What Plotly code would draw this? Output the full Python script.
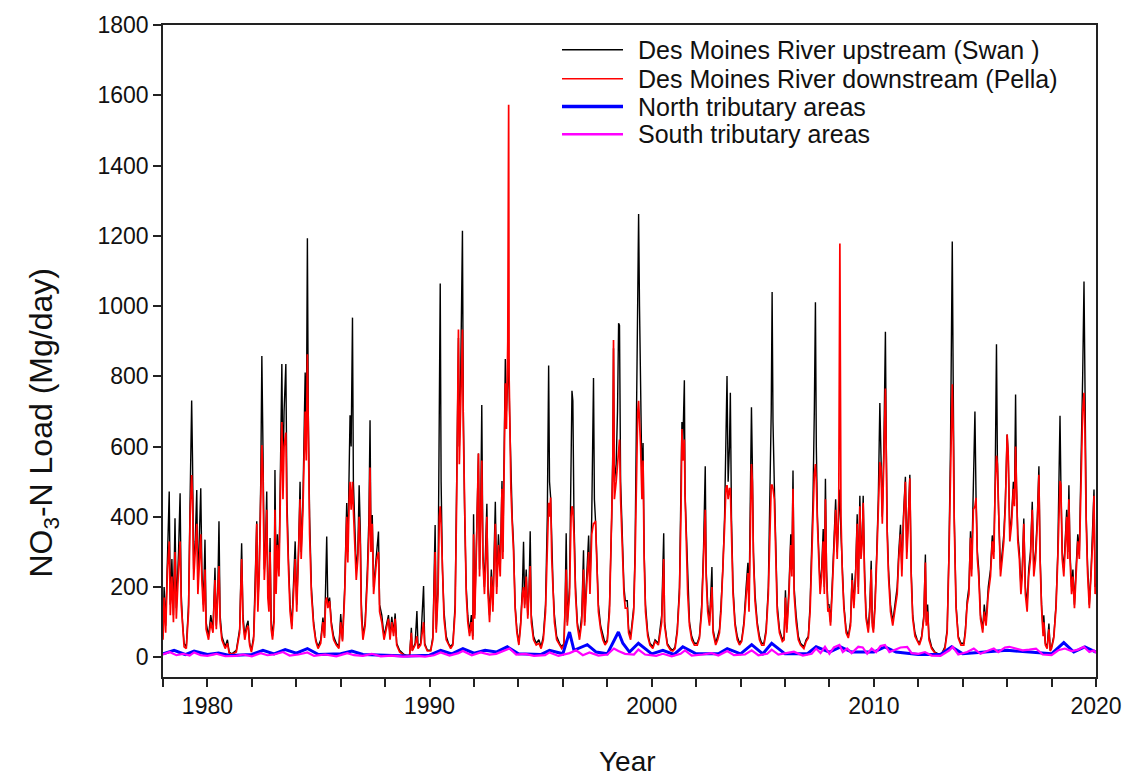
import plotly.graph_objects as go

# Daily NO3-N load, Des Moines River — turning points of each record (decimal year, Mg/day)
SWAN = [
    (1978.00, 60), (1978.05, 200), (1978.12, 90), (1978.20, 300), (1978.28, 472), (1978.33, 150), (1978.40, 280),
    (1978.47, 120), (1978.54, 396), (1978.60, 140), (1978.70, 300), (1978.77, 467), (1978.82, 180), (1978.88, 100),
    (1978.95, 40),
    (1979.05, 30), (1979.15, 150), (1979.22, 450), (1979.29, 731), (1979.33, 560), (1979.38, 250), (1979.45, 330),
    (1979.52, 476), (1979.57, 200), (1979.63, 320), (1979.70, 481), (1979.75, 250), (1979.82, 150), (1979.89, 335),
    (1979.94, 100),
    (1980.05, 60), (1980.15, 120), (1980.25, 80), (1980.34, 255), (1980.40, 90), (1980.47, 200), (1980.52, 387),
    (1980.57, 120), (1980.65, 60), (1980.80, 30), (1980.90, 50), (1980.98, 15),
    (1981.10, 10), (1981.30, 20), (1981.45, 80), (1981.54, 325), (1981.60, 120), (1981.68, 60), (1981.76, 90),
    (1981.83, 104), (1981.90, 40), (1981.98, 20),
    (1982.08, 60), (1982.15, 200), (1982.22, 387), (1982.27, 150), (1982.33, 250), (1982.40, 500), (1982.45, 858),
    (1982.50, 600), (1982.56, 250), (1982.62, 330), (1982.67, 472), (1982.72, 200), (1982.77, 150), (1982.82, 340),
    (1982.87, 100), (1982.93, 60),
    (1983.00, 120), (1983.04, 533), (1983.09, 200), (1983.15, 350), (1983.22, 250), (1983.30, 600), (1983.35, 835),
    (1983.40, 500), (1983.45, 700), (1983.53, 835), (1983.58, 450), (1983.65, 274), (1983.72, 150), (1983.80, 90),
    (1983.88, 200), (1983.95, 330),
    (1984.02, 150), (1984.10, 300), (1984.17, 500), (1984.22, 300), (1984.30, 450), (1984.40, 811), (1984.45, 600),
    (1984.50, 1193), (1984.54, 700), (1984.60, 400), (1984.68, 200), (1984.78, 100), (1984.88, 50), (1984.98, 30),
    (1985.10, 50), (1985.20, 113), (1985.27, 60), (1985.32, 170), (1985.37, 344), (1985.42, 150), (1985.50, 170),
    (1985.58, 100), (1985.68, 60), (1985.80, 40), (1985.92, 30),
    (1986.00, 123), (1986.08, 50), (1986.18, 200), (1986.27, 439), (1986.32, 300), (1986.38, 550), (1986.42, 689),
    (1986.47, 600), (1986.50, 840), (1986.53, 967), (1986.57, 500), (1986.63, 350), (1986.70, 250), (1986.77, 300),
    (1986.83, 490), (1986.88, 368), (1986.93, 150),
    (1987.00, 60), (1987.10, 100), (1987.20, 250), (1987.27, 400), (1987.32, 675), (1987.36, 350), (1987.42, 405),
    (1987.48, 200), (1987.55, 250), (1987.62, 300), (1987.70, 358), (1987.75, 150), (1987.85, 120), (1987.95, 60),
    (1988.05, 90), (1988.15, 120), (1988.22, 60), (1988.30, 115), (1988.38, 70), (1988.45, 125), (1988.52, 40),
    (1988.65, 20), (1988.85, 8), (1988.98, 5),
    (1989.10, 5), (1989.18, 84), (1989.22, 20), (1989.35, 40), (1989.43, 132), (1989.48, 30), (1989.60, 40),
    (1989.73, 203), (1989.78, 40), (1989.90, 20),
    (1990.05, 20), (1990.15, 60), (1990.25, 377), (1990.30, 80), (1990.38, 200), (1990.44, 873), (1990.48, 1064),
    (1990.52, 500), (1990.58, 250), (1990.65, 130), (1990.75, 60), (1990.85, 40), (1990.95, 30),
    (1991.05, 40), (1991.15, 150), (1991.22, 500), (1991.30, 909), (1991.34, 600), (1991.40, 800), (1991.48, 1214),
    (1991.52, 700), (1991.58, 400), (1991.65, 200), (1991.72, 120), (1991.80, 70), (1991.88, 120), (1991.95, 60),
    (1991.98, 407), (1992.03, 120), (1992.10, 300), (1992.20, 580), (1992.25, 250), (1992.30, 400), (1992.35, 718),
    (1992.40, 300), (1992.47, 200), (1992.53, 300), (1992.58, 437), (1992.63, 200), (1992.70, 120), (1992.78, 250),
    (1992.85, 150), (1992.90, 280), (1992.96, 443),
    (1993.02, 200), (1993.10, 350), (1993.18, 250), (1993.26, 502), (1993.30, 300), (1993.36, 600), (1993.41, 849),
    (1993.46, 700), (1993.52, 800), (1993.56, 850), (1993.60, 700), (1993.66, 500), (1993.72, 400), (1993.78, 323),
    (1993.85, 150), (1993.93, 80),
    (1994.02, 40), (1994.10, 100), (1994.18, 200), (1994.23, 329), (1994.28, 150), (1994.35, 250), (1994.42, 120),
    (1994.48, 200), (1994.53, 359), (1994.58, 120), (1994.68, 60), (1994.80, 40), (1994.92, 50),
    (1995.02, 30), (1995.12, 60), (1995.22, 150), (1995.30, 400), (1995.36, 831), (1995.40, 500), (1995.45, 455),
    (1995.50, 300), (1995.56, 200), (1995.62, 120), (1995.72, 60), (1995.85, 40), (1995.95, 30),
    (1996.05, 40), (1996.10, 150), (1996.15, 353), (1996.20, 100), (1996.30, 200), (1996.37, 600), (1996.41, 759),
    (1996.45, 730), (1996.50, 400), (1996.57, 200), (1996.65, 100), (1996.75, 60), (1996.85, 120), (1996.93, 305),
    (1996.98, 100), (1997.05, 200), (1997.16, 347), (1997.22, 200), (1997.30, 400), (1997.38, 795), (1997.42, 450),
    (1997.47, 389), (1997.53, 250), (1997.60, 150), (1997.70, 90), (1997.80, 60), (1997.90, 40),
    (1998.00, 50), (1998.10, 150), (1998.20, 400), (1998.25, 600), (1998.28, 880), (1998.32, 500), (1998.40, 550),
    (1998.46, 700), (1998.51, 951), (1998.55, 945), (1998.60, 500), (1998.68, 300), (1998.75, 200), (1998.81, 161),
    (1998.90, 161), (1998.96, 80),
    (1999.05, 60), (1999.12, 100), (1999.19, 143), (1999.25, 300), (1999.32, 700), (1999.37, 1130), (1999.41, 1262),
    (1999.45, 1000), (1999.50, 700), (1999.56, 500), (1999.61, 610), (1999.66, 300), (1999.72, 150), (1999.82, 70),
    (1999.92, 40),
    (2000.05, 30), (2000.15, 50), (2000.30, 40), (2000.45, 120), (2000.54, 353), (2000.58, 100), (2000.70, 40),
    (2000.85, 25), (2000.95, 20),
    (2001.05, 30), (2001.15, 80), (2001.25, 200), (2001.32, 450), (2001.36, 670), (2001.40, 600), (2001.47, 789),
    (2001.50, 466), (2001.56, 350), (2001.62, 200), (2001.70, 100), (2001.80, 60), (2001.92, 40),
    (2002.05, 40), (2002.15, 60), (2002.25, 150), (2002.33, 300), (2002.41, 544), (2002.45, 250), (2002.52, 150),
    (2002.60, 100), (2002.66, 180), (2002.71, 257), (2002.76, 80), (2002.88, 40), (2002.97, 60),
    (2003.05, 80), (2003.12, 150), (2003.20, 250), (2003.28, 400), (2003.34, 600), (2003.39, 801), (2003.44, 500),
    (2003.50, 600), (2003.54, 753), (2003.59, 400), (2003.66, 200), (2003.75, 100), (2003.85, 60), (2003.95, 40),
    (2004.05, 50), (2004.15, 100), (2004.25, 200), (2004.33, 269), (2004.38, 150), (2004.44, 400), (2004.49, 712),
    (2004.53, 550), (2004.58, 300), (2004.65, 180), (2004.75, 100), (2004.85, 60), (2004.95, 40),
    (2005.05, 40), (2005.15, 80), (2005.25, 200), (2005.33, 450), (2005.38, 700), (2005.42, 1040), (2005.46, 670),
    (2005.52, 490), (2005.58, 300), (2005.65, 150), (2005.75, 80), (2005.88, 50), (2005.96, 60),
    (2006.02, 191), (2006.08, 80), (2006.18, 200), (2006.26, 350), (2006.31, 250), (2006.36, 532), (2006.41, 200),
    (2006.50, 120), (2006.60, 60), (2006.70, 40), (2006.85, 30), (2006.95, 50),
    (2007.05, 60), (2007.13, 150), (2007.20, 300), (2007.26, 450), (2007.32, 700), (2007.37, 1011), (2007.41, 600),
    (2007.46, 400), (2007.52, 300), (2007.58, 200), (2007.65, 250), (2007.72, 365), (2007.77, 200), (2007.82, 508),
    (2007.87, 250), (2007.93, 150),
    (2007.98, 150), (2008.05, 100), (2008.12, 200), (2008.20, 350), (2008.28, 450), (2008.35, 300), (2008.42, 400),
    (2008.47, 478), (2008.52, 350), (2008.58, 250), (2008.65, 150), (2008.75, 80), (2008.85, 60), (2008.95, 100),
    (2009.02, 239), (2009.10, 150), (2009.18, 250), (2009.25, 407), (2009.30, 200), (2009.37, 460), (2009.42, 300),
    (2009.48, 350), (2009.52, 460), (2009.58, 250), (2009.65, 120), (2009.75, 80), (2009.82, 150), (2009.88, 275),
    (2009.93, 100),
    (2009.98, 80), (2010.05, 150), (2010.13, 300), (2010.20, 450), (2010.27, 724), (2010.32, 562), (2010.38, 400),
    (2010.45, 600), (2010.52, 927), (2010.56, 600), (2010.60, 371), (2010.66, 250), (2010.75, 150), (2010.85, 100),
    (2010.95, 150),
    (2011.05, 200), (2011.12, 300), (2011.20, 377), (2011.26, 250), (2011.33, 400), (2011.42, 514), (2011.48, 300),
    (2011.55, 400), (2011.62, 520), (2011.68, 250), (2011.75, 120), (2011.85, 70), (2011.95, 50),
    (2012.05, 40), (2012.15, 60), (2012.25, 120), (2012.32, 293), (2012.36, 100), (2012.42, 150), (2012.48, 60),
    (2012.60, 30), (2012.75, 15), (2012.90, 10),
    (2013.05, 10), (2013.20, 30), (2013.30, 80), (2013.38, 300), (2013.45, 600), (2013.50, 1000), (2013.53, 1184),
    (2013.57, 800), (2013.62, 400), (2013.70, 150), (2013.80, 60), (2013.92, 40),
    (2014.05, 40), (2014.12, 80), (2014.20, 161), (2014.28, 200), (2014.35, 359), (2014.40, 250), (2014.48, 450),
    (2014.55, 700), (2014.60, 454), (2014.66, 300), (2014.72, 251), (2014.80, 120), (2014.90, 80), (2014.97, 150),
    (2015.05, 100), (2015.15, 200), (2015.25, 250), (2015.33, 347), (2015.40, 300), (2015.46, 500), (2015.52, 891),
    (2015.56, 574), (2015.62, 400), (2015.70, 250), (2015.78, 300), (2015.85, 350), (2015.92, 450),
    (2016.00, 634), (2016.05, 574), (2016.12, 350), (2016.20, 400), (2016.28, 500), (2016.33, 450), (2016.38, 748),
    (2016.42, 490), (2016.48, 350), (2016.55, 300), (2016.62, 200), (2016.68, 250), (2016.75, 395), (2016.82, 200),
    (2016.90, 150), (2016.97, 250),
    (2017.05, 300), (2017.13, 443), (2017.20, 250), (2017.28, 300), (2017.36, 400), (2017.43, 544), (2017.48, 300),
    (2017.55, 150), (2017.62, 70), (2017.65, 120), (2017.72, 40), (2017.80, 30), (2017.88, 96), (2017.94, 20),
    (2018.00, 30), (2018.10, 60), (2018.20, 150), (2018.28, 300), (2018.33, 450), (2018.38, 688), (2018.42, 490),
    (2018.48, 300), (2018.55, 250), (2018.62, 350), (2018.68, 420), (2018.73, 300), (2018.78, 490), (2018.83, 300),
    (2018.90, 200), (2018.96, 250),
    (2019.03, 150), (2019.10, 250), (2019.18, 350), (2019.25, 300), (2019.32, 500), (2019.40, 800), (2019.46, 1070),
    (2019.50, 700), (2019.56, 400), (2019.62, 263), (2019.70, 150), (2019.78, 250), (2019.85, 350), (2019.91, 478),
    (2019.96, 200), (2020.00, 210),
]

PELLA = [
    (1978.00, 50), (1978.05, 170), (1978.12, 70), (1978.20, 250), (1978.28, 330), (1978.33, 120), (1978.40, 230),
    (1978.47, 100), (1978.54, 300), (1978.60, 110), (1978.70, 250), (1978.77, 330), (1978.82, 150), (1978.88, 80),
    (1978.95, 30),
    (1979.05, 25), (1979.15, 130), (1979.22, 400), (1979.29, 519), (1979.33, 450), (1979.38, 220), (1979.45, 300),
    (1979.52, 380), (1979.57, 180), (1979.63, 280), (1979.70, 350), (1979.75, 220), (1979.82, 130), (1979.89, 250),
    (1979.94, 80),
    (1980.05, 50), (1980.15, 100), (1980.25, 70), (1980.34, 220), (1980.40, 80), (1980.47, 170), (1980.52, 260),
    (1980.57, 100), (1980.65, 50), (1980.80, 25), (1980.90, 40), (1980.98, 12),
    (1981.10, 8), (1981.30, 15), (1981.45, 70), (1981.54, 280), (1981.60, 100), (1981.68, 50), (1981.76, 80),
    (1981.83, 90), (1981.90, 35), (1981.98, 15),
    (1982.08, 50), (1982.15, 180), (1982.22, 380), (1982.27, 130), (1982.33, 230), (1982.40, 450), (1982.45, 604),
    (1982.50, 520), (1982.56, 220), (1982.62, 300), (1982.67, 420), (1982.72, 170), (1982.77, 130), (1982.82, 300),
    (1982.87, 80), (1982.93, 50),
    (1983.00, 100), (1983.04, 420), (1983.09, 180), (1983.15, 320), (1983.22, 230), (1983.30, 520), (1983.35, 670),
    (1983.40, 450), (1983.45, 600), (1983.53, 640), (1983.58, 400), (1983.65, 250), (1983.72, 130), (1983.80, 80),
    (1983.88, 180), (1983.95, 280),
    (1984.02, 130), (1984.10, 270), (1984.17, 450), (1984.22, 280), (1984.30, 420), (1984.40, 700), (1984.45, 560),
    (1984.50, 863), (1984.54, 650), (1984.60, 350), (1984.68, 180), (1984.78, 90), (1984.88, 45), (1984.98, 25),
    (1985.10, 40), (1985.20, 100), (1985.27, 55), (1985.32, 160), (1985.37, 170), (1985.42, 140), (1985.50, 160),
    (1985.58, 90), (1985.68, 50), (1985.80, 35), (1985.92, 25),
    (1986.00, 100), (1986.08, 45), (1986.18, 180), (1986.27, 400), (1986.32, 270), (1986.38, 450), (1986.42, 500),
    (1986.47, 420), (1986.50, 450), (1986.53, 500), (1986.57, 420), (1986.63, 300), (1986.70, 220), (1986.77, 280),
    (1986.83, 400), (1986.88, 320), (1986.93, 120),
    (1987.00, 50), (1987.10, 90), (1987.20, 220), (1987.27, 350), (1987.32, 540), (1987.36, 300), (1987.42, 380),
    (1987.48, 180), (1987.55, 230), (1987.62, 280), (1987.70, 300), (1987.75, 130), (1987.85, 100), (1987.95, 50),
    (1988.05, 80), (1988.15, 110), (1988.22, 50), (1988.30, 100), (1988.38, 60), (1988.45, 110), (1988.52, 35),
    (1988.65, 15), (1988.85, 6), (1988.98, 4),
    (1989.10, 4), (1989.18, 70), (1989.22, 18), (1989.35, 35), (1989.43, 60), (1989.48, 25), (1989.60, 35),
    (1989.73, 100), (1989.78, 35), (1989.90, 18),
    (1990.05, 18), (1990.15, 50), (1990.25, 300), (1990.30, 70), (1990.38, 180), (1990.44, 400), (1990.48, 430),
    (1990.52, 380), (1990.58, 220), (1990.65, 110), (1990.75, 50), (1990.85, 35), (1990.95, 25),
    (1991.05, 35), (1991.15, 130), (1991.22, 450), (1991.30, 933), (1991.34, 550), (1991.40, 760), (1991.48, 933),
    (1991.52, 650), (1991.58, 370), (1991.65, 180), (1991.72, 100), (1991.80, 60), (1991.88, 100), (1991.95, 50),
    (1991.98, 350), (1992.03, 110), (1992.10, 280), (1992.20, 580), (1992.25, 230), (1992.30, 380), (1992.35, 560),
    (1992.40, 280), (1992.47, 180), (1992.53, 280), (1992.58, 400), (1992.63, 180), (1992.70, 100), (1992.78, 230),
    (1992.85, 130), (1992.90, 250), (1992.96, 380),
    (1993.02, 180), (1993.10, 320), (1993.18, 230), (1993.26, 480), (1993.30, 280), (1993.36, 560), (1993.41, 780),
    (1993.46, 650), (1993.52, 900), (1993.56, 1573), (1993.58, 800), (1993.62, 650), (1993.66, 480), (1993.72, 380),
    (1993.78, 300), (1993.85, 140), (1993.93, 70),
    (1994.02, 35), (1994.10, 90), (1994.18, 180), (1994.23, 200), (1994.28, 140), (1994.35, 230), (1994.42, 110),
    (1994.48, 180), (1994.53, 260), (1994.58, 100), (1994.68, 50), (1994.80, 35), (1994.92, 40),
    (1995.02, 25), (1995.12, 50), (1995.22, 130), (1995.30, 350), (1995.36, 440), (1995.40, 400), (1995.45, 455),
    (1995.50, 280), (1995.56, 180), (1995.62, 100), (1995.72, 50), (1995.85, 35), (1995.95, 25),
    (1996.05, 35), (1996.10, 130), (1996.15, 250), (1996.20, 90), (1996.30, 180), (1996.37, 400), (1996.41, 430),
    (1996.45, 420), (1996.50, 350), (1996.57, 180), (1996.65, 90), (1996.75, 50), (1996.85, 100), (1996.93, 250),
    (1996.98, 90), (1997.05, 180), (1997.16, 300), (1997.22, 180), (1997.30, 350), (1997.38, 383), (1997.42, 380),
    (1997.47, 389), (1997.53, 230), (1997.60, 130), (1997.70, 80), (1997.80, 50), (1997.90, 35),
    (1998.00, 45), (1998.10, 130), (1998.20, 380), (1998.25, 550), (1998.28, 903), (1998.32, 450), (1998.40, 500),
    (1998.46, 550), (1998.51, 600), (1998.55, 620), (1998.60, 450), (1998.68, 280), (1998.75, 180), (1998.81, 140),
    (1998.90, 140), (1998.96, 70),
    (1999.05, 50), (1999.12, 90), (1999.19, 130), (1999.25, 270), (1999.32, 550), (1999.37, 700), (1999.41, 730),
    (1999.45, 680), (1999.50, 600), (1999.56, 450), (1999.61, 560), (1999.66, 280), (1999.72, 130), (1999.82, 60),
    (1999.92, 35),
    (2000.05, 25), (2000.15, 45), (2000.30, 35), (2000.45, 100), (2000.54, 280), (2000.58, 90), (2000.70, 35),
    (2000.85, 20), (2000.95, 18),
    (2001.05, 25), (2001.15, 70), (2001.25, 180), (2001.32, 420), (2001.36, 650), (2001.40, 560), (2001.47, 620),
    (2001.50, 466), (2001.56, 330), (2001.62, 180), (2001.70, 90), (2001.80, 50), (2001.92, 35),
    (2002.05, 35), (2002.15, 55), (2002.25, 130), (2002.33, 280), (2002.41, 420), (2002.45, 230), (2002.52, 130),
    (2002.60, 90), (2002.66, 160), (2002.71, 200), (2002.76, 70), (2002.88, 35), (2002.97, 50),
    (2003.05, 70), (2003.12, 130), (2003.20, 230), (2003.28, 370), (2003.34, 480), (2003.39, 490), (2003.44, 450),
    (2003.50, 480), (2003.54, 480), (2003.59, 360), (2003.66, 180), (2003.75, 90), (2003.85, 50), (2003.95, 35),
    (2004.05, 45), (2004.15, 90), (2004.25, 180), (2004.33, 240), (2004.38, 130), (2004.44, 380), (2004.49, 550),
    (2004.53, 500), (2004.58, 280), (2004.65, 160), (2004.75, 90), (2004.85, 50), (2004.95, 35),
    (2005.05, 35), (2005.15, 70), (2005.25, 180), (2005.33, 420), (2005.38, 490), (2005.42, 490), (2005.46, 480),
    (2005.52, 450), (2005.58, 280), (2005.65, 130), (2005.75, 70), (2005.88, 45), (2005.96, 50),
    (2006.02, 170), (2006.08, 70), (2006.18, 180), (2006.26, 320), (2006.31, 230), (2006.36, 480), (2006.41, 180),
    (2006.50, 100), (2006.60, 50), (2006.70, 35), (2006.85, 25), (2006.95, 45),
    (2007.05, 55), (2007.13, 130), (2007.20, 280), (2007.26, 420), (2007.32, 520), (2007.37, 550), (2007.41, 500),
    (2007.46, 380), (2007.52, 280), (2007.58, 180), (2007.65, 230), (2007.72, 330), (2007.77, 180), (2007.82, 450),
    (2007.87, 230), (2007.93, 130),
    (2007.98, 140), (2008.05, 90), (2008.12, 180), (2008.20, 330), (2008.28, 420), (2008.35, 280), (2008.42, 450),
    (2008.47, 1178), (2008.49, 600), (2008.52, 400), (2008.58, 240), (2008.65, 140), (2008.75, 70), (2008.85, 55),
    (2008.95, 90),
    (2009.02, 220), (2009.10, 140), (2009.18, 230), (2009.25, 380), (2009.30, 180), (2009.37, 430), (2009.42, 280),
    (2009.48, 330), (2009.52, 440), (2009.58, 230), (2009.65, 110), (2009.75, 70), (2009.82, 130), (2009.88, 250),
    (2009.93, 90),
    (2009.98, 70), (2010.05, 140), (2010.13, 280), (2010.20, 420), (2010.27, 556), (2010.32, 540), (2010.38, 380),
    (2010.45, 560), (2010.52, 765), (2010.56, 560), (2010.60, 350), (2010.66, 230), (2010.75, 130), (2010.85, 90),
    (2010.95, 130),
    (2011.05, 180), (2011.12, 280), (2011.20, 350), (2011.26, 230), (2011.33, 380), (2011.42, 500), (2011.48, 280),
    (2011.55, 380), (2011.62, 510), (2011.68, 230), (2011.75, 110), (2011.85, 60), (2011.95, 45),
    (2012.05, 35), (2012.15, 55), (2012.25, 110), (2012.32, 270), (2012.36, 90), (2012.42, 130), (2012.48, 50),
    (2012.60, 25), (2012.75, 12), (2012.90, 8),
    (2013.05, 8), (2013.20, 25), (2013.30, 70), (2013.38, 280), (2013.45, 550), (2013.50, 700), (2013.53, 777),
    (2013.57, 650), (2013.62, 380), (2013.70, 140), (2013.80, 55), (2013.92, 35),
    (2014.05, 35), (2014.12, 70), (2014.20, 150), (2014.28, 180), (2014.35, 340), (2014.40, 230), (2014.48, 420),
    (2014.55, 430), (2014.60, 454), (2014.66, 280), (2014.72, 230), (2014.80, 110), (2014.90, 70), (2014.97, 130),
    (2015.05, 90), (2015.15, 180), (2015.25, 230), (2015.33, 330), (2015.40, 280), (2015.46, 480), (2015.52, 574),
    (2015.56, 550), (2015.62, 380), (2015.70, 230), (2015.78, 280), (2015.85, 330), (2015.92, 430),
    (2016.00, 634), (2016.05, 574), (2016.12, 330), (2016.20, 380), (2016.28, 480), (2016.33, 430), (2016.38, 600),
    (2016.42, 490), (2016.48, 330), (2016.55, 280), (2016.62, 180), (2016.68, 230), (2016.75, 380), (2016.82, 180),
    (2016.90, 130), (2016.97, 230),
    (2017.05, 280), (2017.13, 420), (2017.20, 230), (2017.28, 280), (2017.36, 380), (2017.43, 520), (2017.48, 280),
    (2017.55, 140), (2017.62, 60), (2017.65, 100), (2017.72, 35), (2017.80, 25), (2017.88, 80), (2017.94, 18),
    (2018.00, 25), (2018.10, 55), (2018.20, 140), (2018.28, 280), (2018.33, 420), (2018.38, 502), (2018.42, 490),
    (2018.48, 280), (2018.55, 230), (2018.62, 330), (2018.68, 400), (2018.73, 280), (2018.78, 450), (2018.83, 280),
    (2018.90, 180), (2018.96, 230),
    (2019.03, 140), (2019.10, 230), (2019.18, 330), (2019.25, 280), (2019.32, 480), (2019.40, 700), (2019.46, 753),
    (2019.50, 650), (2019.56, 380), (2019.62, 240), (2019.70, 140), (2019.78, 230), (2019.85, 330), (2019.91, 460),
    (2019.96, 180), (2020.00, 200),
]

NORTH = [
    (1978.0, 10), (1978.5, 20), (1979.0, 8), (1979.4, 18), (1980.0, 8), (1980.5, 12), (1981.0, 5), (1982.0, 8),
    (1982.5, 20), (1983.0, 10), (1983.5, 22), (1984.0, 12), (1984.5, 25), (1985.0, 8), (1986.0, 10), (1986.5, 18),
    (1987.0, 8), (1988.0, 5), (1989.0, 4), (1990.0, 6), (1990.5, 20), (1991.0, 10), (1991.5, 25), (1992.0, 12),
    (1992.5, 20), (1993.0, 15), (1993.5, 30), (1994.0, 10), (1995.0, 8), (1995.4, 20), (1996.0, 10), (1996.3, 72),
    (1996.5, 20), (1997.1, 36), (1997.5, 15), (1998.0, 10), (1998.5, 72), (1998.7, 40), (1999.0, 15), (1999.4, 40),
    (2000.0, 10), (2000.5, 20), (2001.0, 8), (2001.4, 30), (2002.0, 10), (2003.0, 10), (2003.4, 25), (2004.0, 10),
    (2004.5, 36), (2005.0, 10), (2005.4, 40), (2006.0, 10), (2007.0, 10), (2007.4, 30), (2008.0, 15), (2008.5, 30),
    (2009.0, 15), (2010.0, 15), (2010.5, 30), (2011.0, 15), (2012.0, 8), (2013.0, 8), (2013.5, 30), (2014.0, 10),
    (2015.0, 15), (2016.0, 20), (2017.0, 15), (2018.0, 10), (2018.55, 42), (2019.0, 15), (2019.5, 30), (2020.0, 15),
]

SOUTH = [
    (1978.0, 8), (1978.3, 15), (1978.6, 6), (1978.9, 10), (1979.2, 5), (1979.4, 14), (1979.7, 6), (1980.0, 4),
    (1980.4, 10), (1980.8, 3), (1981.3, 4), (1981.6, 8), (1982.0, 3), (1982.4, 12), (1982.7, 6), (1983.0, 8),
    (1983.4, 15), (1983.7, 5), (1984.1, 8), (1984.5, 14), (1984.8, 4), (1985.3, 8), (1985.8, 3), (1986.3, 12),
    (1986.6, 6), (1987.0, 4), (1987.4, 10), (1987.8, 3), (1988.3, 5), (1988.8, 2), (1989.4, 4), (1989.8, 2),
    (1990.2, 6), (1990.5, 14), (1990.9, 5), (1991.3, 12), (1991.5, 18), (1991.9, 6), (1992.3, 14), (1992.7, 8),
    (1993.0, 10), (1993.4, 20), (1993.6, 25), (1993.9, 8), (1994.3, 10), (1994.7, 4), (1995.2, 6), (1995.4, 14),
    (1995.8, 4), (1996.3, 12), (1996.6, 20), (1996.9, 6), (1997.2, 14), (1997.6, 5), (1998.0, 8), (1998.3, 25),
    (1998.5, 18), (1998.8, 10), (1999.2, 8), (1999.4, 22), (1999.7, 8), (2000.2, 4), (2000.5, 10), (2000.9, 3),
    (2001.3, 10), (2001.5, 20), (2001.8, 5), (2002.3, 8), (2002.7, 12), (2003.0, 5), (2003.4, 18), (2003.7, 6),
    (2004.2, 8), (2004.5, 20), (2004.8, 6), (2005.2, 10), (2005.4, 22), (2005.7, 8), (2006.0, 12), (2006.4, 16),
    (2006.8, 5), (2007.2, 10), (2007.4, 25), (2007.6, 12), (2007.8, 30), (2008.0, 10), (2008.2, 28), (2008.45, 35),
    (2008.6, 15), (2008.8, 25), (2009.0, 12), (2009.3, 30), (2009.5, 28), (2009.7, 10), (2009.9, 25), (2010.1, 15),
    (2010.3, 32), (2010.5, 35), (2010.7, 15), (2010.9, 20), (2011.2, 28), (2011.5, 30), (2011.7, 12), (2012.0, 10),
    (2012.3, 15), (2012.6, 5), (2013.0, 4), (2013.4, 20), (2013.55, 30), (2013.8, 8), (2014.2, 15), (2014.5, 25),
    (2014.8, 10), (2015.1, 18), (2015.4, 25), (2015.6, 15), (2015.9, 28), (2016.1, 30), (2016.4, 25), (2016.7, 20),
    (2017.0, 22), (2017.3, 25), (2017.6, 8), (2018.0, 6), (2018.3, 20), (2018.6, 25), (2018.9, 18), (2019.2, 22),
    (2019.45, 30), (2019.7, 15), (2019.9, 20), (2020.0, 12),
]

SERIES = [
    ("Des Moines River upstream (Swan )", SWAN, "#000000", 1.4, 1.5),
    ("Des Moines River downstream (Pella)", PELLA, "#ff0000", 1.7, 1.5),
    ("North tributary areas", NORTH, "#0000ff", 3.0, 3.5),
    ("South tributary areas", SOUTH, "#ff00ff", 2.2, 2.5),
]

DECADE_TICKS = [1980, 1990, 2000, 2010, 2020]
LOAD_TICKS = list(range(0, 1801, 200))

FONT = "Liberation Sans, Arial, sans-serif"
W, H = 1142, 777
ML, MR, MT, MB = 163, 46, 21, 100
PW, PH = W - ML - MR, H - MT - MB
AXIS_COLOR = "#222222"


def px_x(px):
    return (px - ML) / PW


def px_y(py):
    return (H - MB - py) / PH


fig = go.Figure()
for name, pts, color, width, _ in SERIES:
    fig.add_trace(go.Scatter(
        x=[p[0] for p in pts], y=[p[1] for p in pts], mode="lines", name=name,
        line=dict(color=color, width=width), showlegend=False,
    ))

# legend block: sample line and label for each series
legend_rows = [46, 75, 103, 131]
shapes, annotations = [], []
for (name, _, color, _, lw), row in zip(SERIES, legend_rows):
    shapes.append(dict(type="line", xref="paper", yref="paper",
                       x0=px_x(562), x1=px_x(623), y0=px_y(row), y1=px_y(row),
                       line=dict(color=color, width=lw)))
    annotations.append(dict(xref="paper", yref="paper", x=px_x(636), y=px_y(row),
                            xanchor="left", yanchor="middle", showarrow=False, text=name,
                            font=dict(family=FONT, size=25, color="#111111")))

annotations.append(dict(xref="paper", yref="paper", x=px_x(44), y=px_y(421), xanchor="center",
                        yanchor="middle", showarrow=False, textangle=-90,
                        text="NO<sub>3</sub>-N Load (Mg/day)",
                        font=dict(family=FONT, size=32, color="#111111")))
annotations.append(dict(xref="paper", yref="paper", x=px_x(627), y=px_y(762), xanchor="center",
                        yanchor="middle", showarrow=False, text="Year",
                        font=dict(family=FONT, size=28, color="#111111")))

fig.update_layout(
    width=W, height=H, margin=dict(l=ML, r=MR, t=MT, b=MB),
    paper_bgcolor="white", plot_bgcolor="white",
    shapes=shapes, annotations=annotations,
    font=dict(family=FONT, size=23, color="#111111"),
)
fig.update_xaxes(range=[1978, 2020], tickmode="array", tickvals=DECADE_TICKS,
                 ticks="outside", ticklen=8, tickwidth=1.5, tickcolor=AXIS_COLOR,
                 minor=dict(tick0=1978, dtick=2, ticks="outside", ticklen=8, tickwidth=1.5,
                            tickcolor=AXIS_COLOR, showgrid=False),
                 showline=True, linecolor=AXIS_COLOR, linewidth=1.5, mirror=True,
                 showgrid=False, zeroline=False, tickfont=dict(size=23))
fig.update_yaxes(range=[-56, 1800], tickmode="array", tickvals=LOAD_TICKS,
                 ticks="outside", ticklen=8, tickwidth=1.5, tickcolor=AXIS_COLOR,
                 showline=True, linecolor=AXIS_COLOR, linewidth=1.5, mirror=True,
                 showgrid=False, zeroline=False, tickfont=dict(size=23))

fig.write_html("out.html")
